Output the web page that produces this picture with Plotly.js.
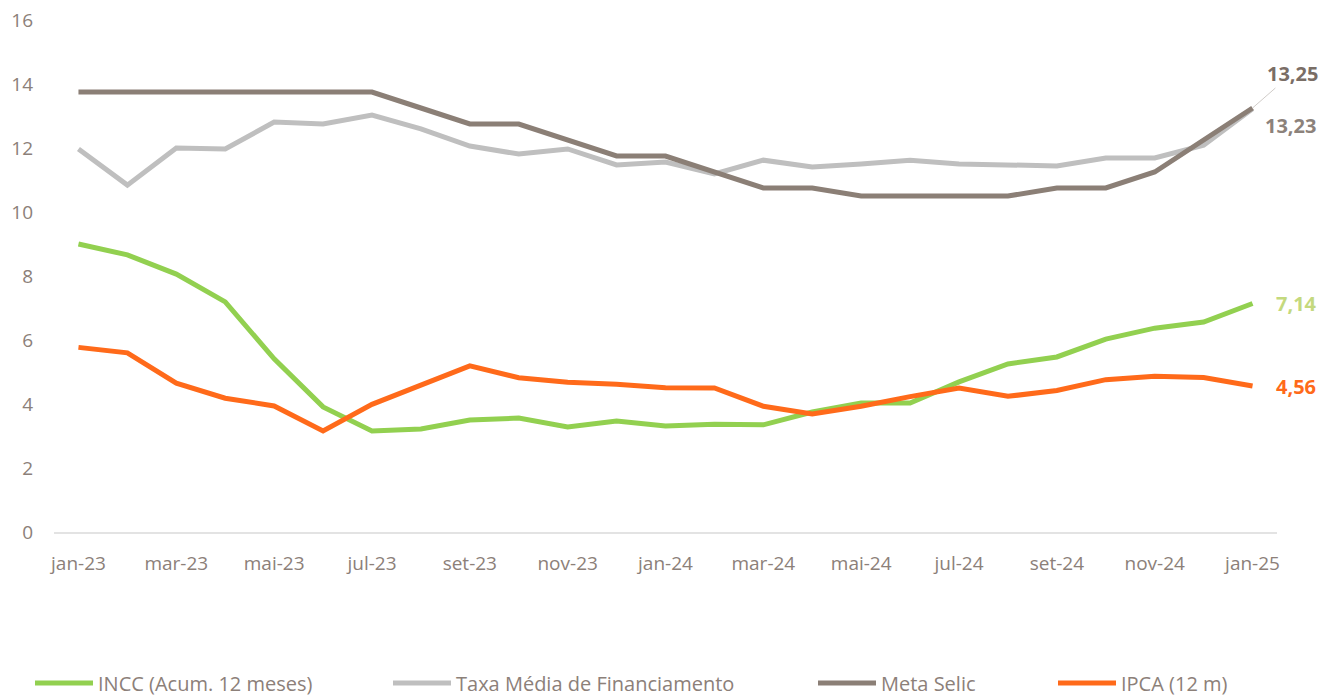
<!DOCTYPE html>
<html>
<head>
<meta charset="utf-8">
<script src="https://cdn.plot.ly/plotly-3.0.1.min.js"></script>
<style>html,body{margin:0;padding:0;background:#fff;}#chart{width:1334px;height:699px;}</style>
</head>
<body>
<div id="chart"></div>
<script>
const months = ['jan-23','fev-23','mar-23','abr-23','mai-23','jun-23','jul-23','ago-23','set-23','out-23','nov-23','dez-23',
  'jan-24','fev-24','mar-24','abr-24','mai-24','jun-24','jul-24','ago-24','set-24','out-24','nov-24','dez-24','jan-25'];
const incc = [9.00,8.66,8.06,7.19,5.41,3.91,3.16,3.22,3.50,3.56,3.28,3.47,3.31,3.37,3.35,3.75,4.03,4.03,4.69,5.25,5.47,6.03,6.37,6.56,7.14];
const taxaMedia = [11.97,10.84,12.00,11.97,12.81,12.75,13.03,12.60,12.06,11.81,11.97,11.47,11.56,11.19,11.62,11.41,11.50,11.62,11.50,11.47,11.44,11.69,11.69,12.09,13.23];
const metaSelic = [13.75,13.75,13.75,13.75,13.75,13.75,13.75,13.25,12.75,12.75,12.25,11.75,11.75,11.25,10.75,10.75,10.50,10.50,10.50,10.50,10.75,10.75,11.25,12.25,13.25];
const ipca = [5.77,5.60,4.65,4.18,3.94,3.16,3.99,4.61,5.19,4.82,4.68,4.62,4.51,4.50,3.93,3.69,3.93,4.23,4.50,4.24,4.42,4.76,4.87,4.83,4.56];
const seriesNames = ['INCC (Acum. 12 meses)','Taxa Média de Financiamento','Meta Selic','IPCA (12 m)'];
const yTicks = [0,2,4,6,8,10,12,14,16];

const colors = ['#92d050','#bfbfbf','#8b7f76','#ff6a1a'];
const labelColors = ['#c4d97e','#8c827b','#7a6e66','#ff6a1a'];
const allSeries = [incc, taxaMedia, metaSelic, ipca];
const legendIds = ['legend','legend2','legend3','legend4'];
const legendX = [35, 393, 818, 1058];

const FONT = 'Open Sans, sans-serif';
const tickColor = '#8c8079';
const plotL = 54, plotR = 57, plotW = 1334 - plotL - plotR;

const traces = allSeries.map((s, i) => ({
  type: 'scatter', mode: 'lines', x: months, y: s, name: seriesNames[i],
  line: {color: colors[i], width: 5},
  legend: legendIds[i], hoverinfo: 'x+y'
}));

const fmt = v => v.toFixed(2).replace('.', ',');
const last = months.length - 1;
const annotations = [
  {x: months[last], y: incc[last], text: '<b>' + fmt(incc[last]) + '</b>', showarrow: false,
   xanchor: 'left', xshift: 21, yshift: 0, font: {family: FONT, size: 20, color: labelColors[0]}},
  {x: months[last], y: taxaMedia[last], text: '<b>' + fmt(taxaMedia[last]) + '</b>', showarrow: false,
   xanchor: 'left', xshift: 10, yshift: -17, font: {family: FONT, size: 20, color: labelColors[1]}},
  {x: months[last], y: metaSelic[last], text: '<b>' + fmt(metaSelic[last]) + '</b>', showarrow: true,
   arrowhead: 0, arrowwidth: 1, arrowcolor: '#d0ccc8', ax: 40, ay: -35, standoff: 0,
   font: {family: FONT, size: 20, color: labelColors[2]}},
  {x: months[last], y: ipca[last], text: '<b>' + fmt(ipca[last]) + '</b>', showarrow: false,
   xanchor: 'left', xshift: 21, yshift: 0, font: {family: FONT, size: 20, color: labelColors[3]}}
];

const layout = {
  width: 1334, height: 699,
  margin: {l: plotL, r: plotR, t: 20, b: 167, autoexpand: false},
  paper_bgcolor: '#ffffff', plot_bgcolor: '#ffffff',
  showlegend: true,
  xaxis: {
    type: 'category', range: [-0.5, 24.5], tick0: 0, dtick: 2,
    showgrid: false, zeroline: false, showline: true, linecolor: '#e3e3e3', linewidth: 2,
    ticks: '', ticklabelstandoff: 13, automargin: false,
    tickfont: {family: FONT, size: 19, color: tickColor}, fixedrange: true
  },
  yaxis: {
    range: [0, 16], tickvals: yTicks, ticktext: yTicks.map(String),
    showgrid: false, zeroline: false, showline: false, ticks: '', ticklabelstandoff: 20, automargin: false,
    tickfont: {family: FONT, size: 19, color: tickColor}, fixedrange: true
  },
  annotations: annotations
};
legendIds.forEach((id, i) => {
  layout[id] = {
    orientation: 'h', x: (legendX[i] - plotL - 5) / plotW, xanchor: 'left', y: -0.257, yanchor: 'top',
    font: {family: FONT, size: 20, color: tickColor}, bgcolor: 'rgba(0,0,0,0)', borderwidth: 0,
    itemwidth: 58, itemclick: false, itemdoubleclick: false
  };
});

Plotly.newPlot('chart', traces, layout, {displayModeBar: false});
</script>
</body>
</html>
